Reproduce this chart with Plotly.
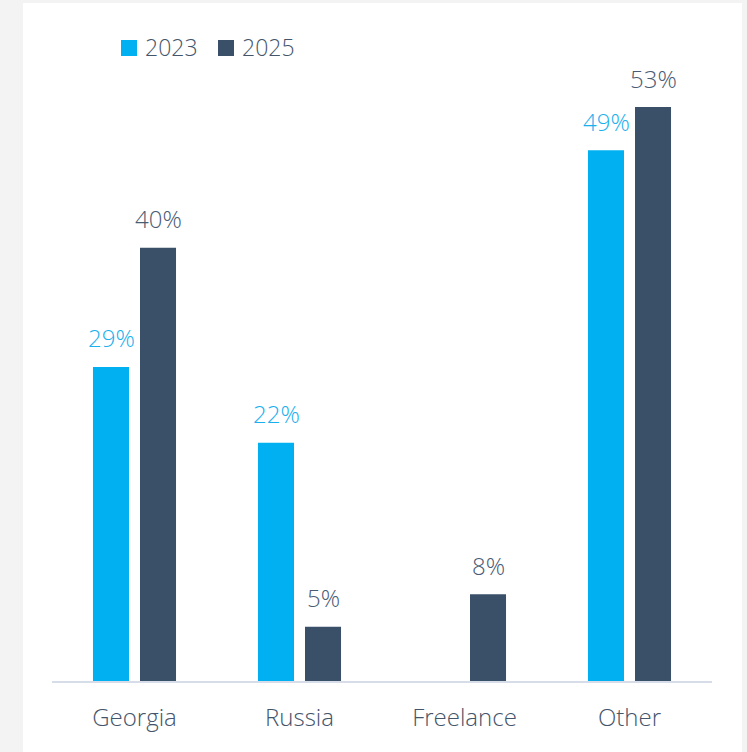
import plotly.graph_objects as go

categories = ["Georgia", "Russia", "Freelance", "Other"]
years = ["2023", "2025"]
values_2023 = [29, 22, None, 49]
values_2025 = [40, 5, 8, 53]

bar_colors = {"2023": "#00b0f0", "2025": "#3a5069"}
label_colors = {"2023": "#1ab0ee", "2025": "#4a5b74"}
text_color = "#44546a"
font_family = "Open Sans"
font_weight = 300

W, H = 747, 752
M_L, M_R, M_T, M_B = 52, 35, 20, 71
plot_w = W - M_L - M_R
plot_h = H - M_T - M_B
px_per_unit = 10.83
y_max = plot_h / px_per_unit

fig = go.Figure()
for year, vals in zip(years, [values_2023, values_2025]):
    fig.add_trace(go.Bar(
        x=categories, y=vals, name=year, showlegend=False,
        marker=dict(color=bar_colors[year], line=dict(width=0)),
    ))

# value labels above each bar
offsets = {"2023": -23.5, "2025": 23.5}
annotations = []
for year, vals in zip(years, [values_2023, values_2025]):
    for cat, v in zip(categories, vals):
        if v is None:
            continue
        annotations.append(dict(
            x=cat, y=v, xref="x", yref="y", text=f"{v}%",
            showarrow=False, xshift=offsets[year], yshift=29,
            yanchor="middle", xanchor="center",
            font=dict(family=font_family, size=24, color=label_colors[year],
                      weight=font_weight),
        ))

x_paper = lambda px: (px - M_L) / plot_w
y_paper = lambda py: (H - M_B - py) / plot_h

# white card on light grey page
shapes = [dict(
    type="rect", xref="paper", yref="paper",
    x0=x_paper(23), x1=x_paper(742), y0=y_paper(H + 5), y1=y_paper(3),
    fillcolor="white", line=dict(width=0), layer="below",
)]

# legend: square swatch + year label
legend_x = {"2023": 121, "2025": 218}
for year in years:
    x0 = legend_x[year]
    shapes.append(dict(
        type="rect", xref="paper", yref="paper",
        x0=x_paper(x0), x1=x_paper(x0 + 16), y0=y_paper(56), y1=y_paper(40),
        fillcolor=bar_colors[year], line=dict(width=0),
    ))
    annotations.append(dict(
        x=x_paper(x0 + 22), y=y_paper(47), xref="paper", yref="paper",
        text=year, showarrow=False, xanchor="left", yanchor="middle",
        font=dict(family=font_family, size=23, color=text_color, weight=font_weight),
    ))

fig.update_layout(
    width=W, height=H,
    margin=dict(l=M_L, r=M_R, t=M_T, b=M_B),
    paper_bgcolor="#f3f3f3", plot_bgcolor="rgba(0,0,0,0)",
    barmode="group", bargap=0.43, bargroupgap=0.234,
    annotations=annotations, shapes=shapes, showlegend=False,
    font=dict(family=font_family, color=text_color, weight=font_weight),
    xaxis=dict(
        showgrid=False, showline=True, linecolor="#d6dde8", linewidth=2,
        ticks="", ticklabelstandoff=14,
        tickfont=dict(family=font_family, size=24, color=text_color,
                      weight=font_weight),
        fixedrange=True,
    ),
    yaxis=dict(
        range=[0, y_max], visible=False, showgrid=False, zeroline=False,
        fixedrange=True,
    ),
)

fig.write_html("out.html", config={"displayModeBar": False})
